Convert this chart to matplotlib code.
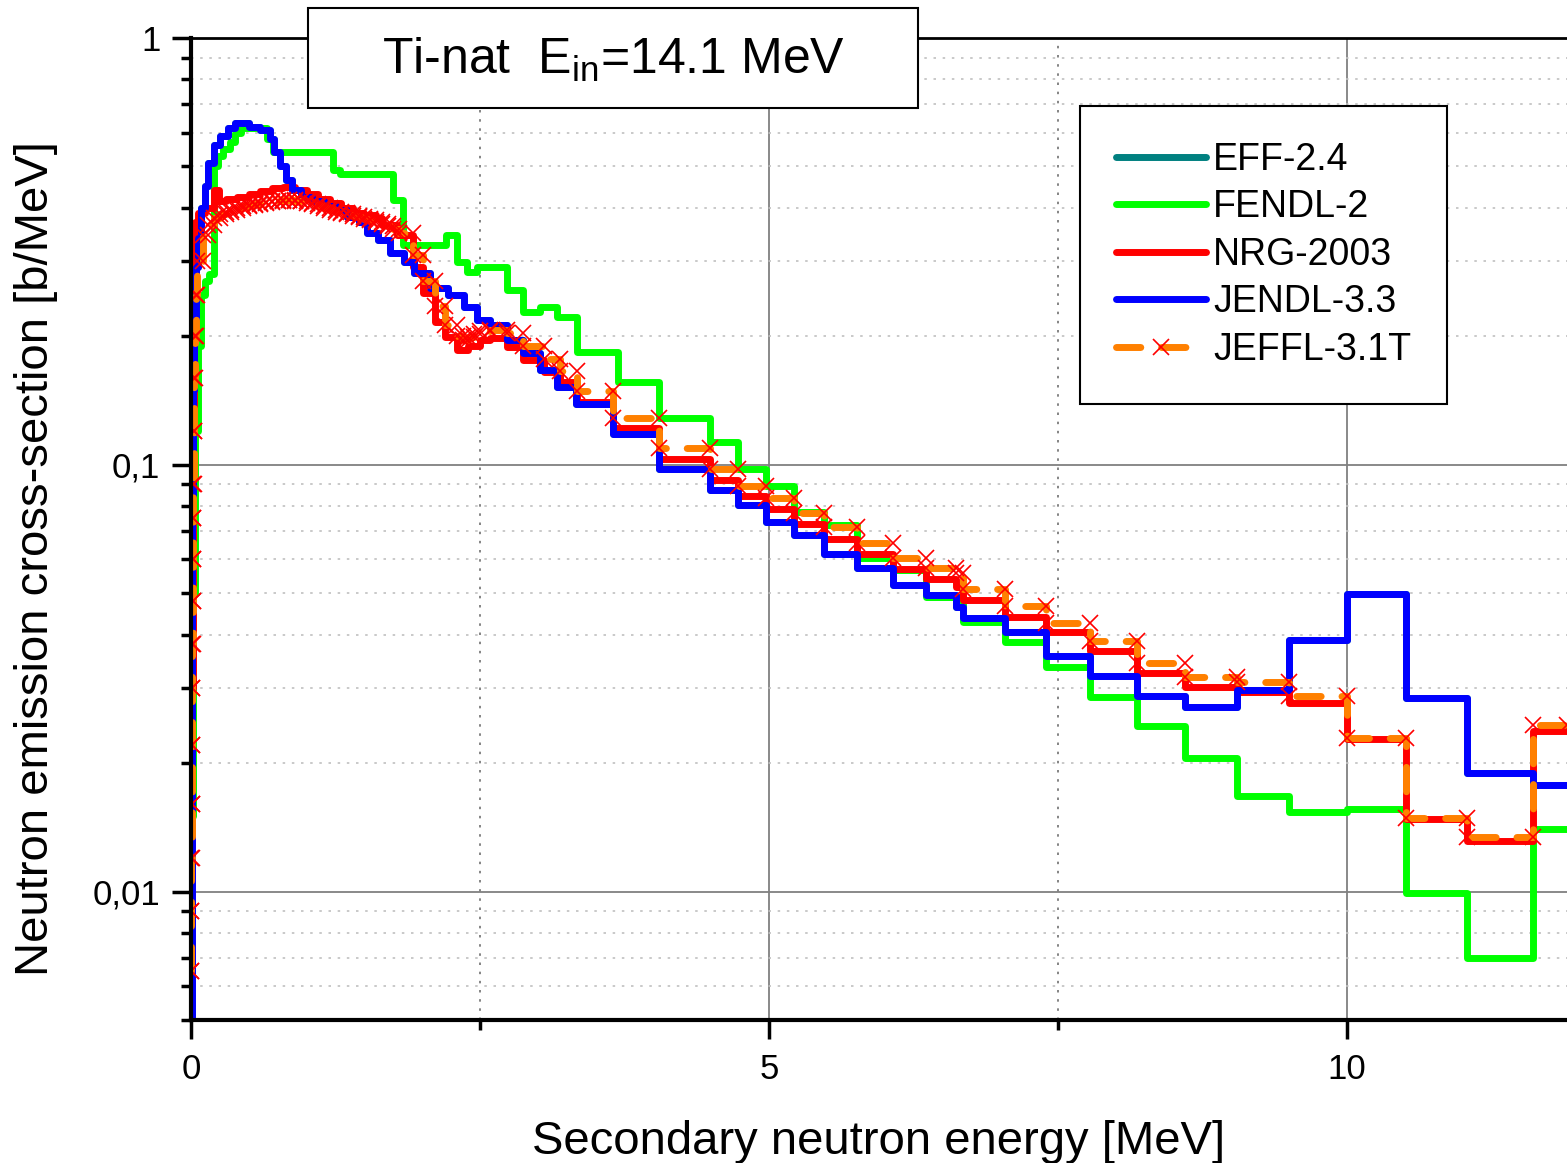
"""Ti-nat neutron emission spectra at 14.1 MeV, several evaluated libraries."""
import numpy as np
import matplotlib

matplotlib.use("Agg")
import matplotlib.pyplot as plt
from matplotlib.patches import Rectangle
from matplotlib.ticker import FixedLocator, LogLocator, NullFormatter

plt.rcParams["font.family"] = ["Liberation Sans", "DejaVu Sans"]
plt.rcParams["mathtext.fontset"] = "custom"
plt.rcParams["mathtext.rm"] = "Liberation Sans"
plt.rcParams["mathtext.it"] = "Liberation Sans:italic"

# ---- data: histogram bin edges [MeV] and values [b/MeV] ----
fendl_edges = [0.0, 0.010, 0.020, 0.035, 0.06, 0.09, 0.12, 0.16, 0.20, 0.23, 0.28,
               0.34, 0.38, 0.43, 0.66, 0.71, 1.23, 1.29, 1.75, 1.83, 2.21, 2.30,
               2.39, 2.47, 2.73, 2.87, 3.02, 3.17, 3.34, 3.69, 4.05, 4.49, 4.73,
               4.97, 5.22, 5.48, 5.76, 6.07, 6.36, 6.68, 7.04, 7.40, 7.78, 8.18,
               8.60, 9.05, 9.50, 10.0, 10.51, 11.04, 11.61, 11.9]
fendl_vals = [0.004, 0.015, 0.05, 0.12, 0.19, 0.25, 0.27, 0.28, 0.50, 0.53, 0.55,
              0.57, 0.60, 0.615, 0.58, 0.54, 0.49, 0.48, 0.417, 0.327, 0.345, 0.298,
              0.283, 0.29, 0.257, 0.228, 0.234, 0.222, 0.184, 0.156, 0.129, 0.113,
              0.098, 0.0893, 0.0774, 0.0722, 0.0605, 0.0566, 0.049, 0.0428, 0.0385,
              0.0335, 0.0285, 0.0244, 0.0205, 0.0167, 0.0154, 0.0156, 0.0099,
              0.0070, 0.0140]

nrg_edges = [0.0, 0.008, 0.015, 0.025, 0.035, 0.06, 0.12, 0.20, 0.24, 0.30, 0.40,
             0.50, 0.60, 0.70, 0.80, 0.90, 1.00, 1.10, 1.20, 1.30, 1.40, 1.50,
             1.60, 1.65, 1.78, 1.92, 2.01, 2.11, 2.20, 2.30, 2.40, 2.50, 2.59,
             2.73, 2.87, 3.05, 3.19, 3.34, 3.65, 4.05, 4.49, 4.73, 4.97, 5.22,
             5.48, 5.76, 6.07, 6.36, 6.62, 6.68, 7.04, 7.40, 7.78, 8.18, 8.60,
             9.05, 9.50, 10.0, 10.51, 11.04, 11.61, 11.9]
nrg_vals = [0.006, 0.03, 0.12, 0.30, 0.37, 0.39, 0.40, 0.44, 0.415, 0.42, 0.425,
            0.43, 0.438, 0.445, 0.447, 0.44, 0.43, 0.42, 0.41, 0.40, 0.39, 0.385,
            0.378, 0.365, 0.345, 0.29, 0.252, 0.216, 0.199, 0.186, 0.19, 0.196,
            0.198, 0.189, 0.176, 0.165, 0.156, 0.140, 0.122, 0.1034, 0.0923,
            0.0844, 0.0789, 0.0728, 0.0671, 0.0619, 0.0571, 0.0541, 0.0517,
            0.0483, 0.0441, 0.0405, 0.0366, 0.0325, 0.0301, 0.0293, 0.0276,
            0.0228, 0.0148, 0.0131, 0.0238]

jendl_edges = [0.0, 0.005, 0.010, 0.015, 0.025, 0.040, 0.06, 0.09, 0.12, 0.15,
               0.20, 0.25, 0.32, 0.38, 0.50, 0.60, 0.68, 0.72, 0.77, 0.82, 0.87,
               0.95, 1.05, 1.15, 1.25, 1.35, 1.45, 1.52, 1.62, 1.72, 1.84, 1.93,
               2.07, 2.22, 2.36, 2.47, 2.59, 2.73, 2.87, 3.02, 3.17, 3.33, 3.65,
               4.05, 4.49, 4.73, 4.97, 5.22, 5.48, 5.76, 6.07, 6.36, 6.62, 6.68,
               7.04, 7.40, 7.78, 8.18, 8.60, 9.05, 9.50, 10.0, 10.51, 11.04, 11.61,
               11.9]
jendl_vals = [0.005, 0.03, 0.08, 0.15, 0.22, 0.29, 0.34, 0.40, 0.45, 0.51, 0.56,
              0.59, 0.615, 0.632, 0.62, 0.61, 0.58, 0.54, 0.50, 0.465, 0.44, 0.425,
              0.415, 0.405, 0.395, 0.38, 0.37, 0.35, 0.337, 0.313, 0.298, 0.281,
              0.26, 0.25, 0.234, 0.218, 0.212, 0.196, 0.183, 0.167, 0.152, 0.139,
              0.118, 0.098, 0.0873, 0.0806, 0.0733, 0.0685, 0.0619, 0.0572, 0.0522,
              0.0495, 0.0465, 0.0437, 0.0406, 0.0357, 0.0320, 0.0287, 0.0271,
              0.0297, 0.0389, 0.0497, 0.0284, 0.0190, 0.0178]

# EFF-2.4 lies under JENDL-3.3 everywhere in the figure
eff_edges = jendl_edges
eff_vals = jendl_vals

jeff_edges = [0.0, 0.002, 0.004, 0.006, 0.008, 0.010, 0.012, 0.014, 0.016, 0.018,
              0.020, 0.025, 0.030, 0.035, 0.040,
              0.05, 0.10, 0.15, 0.20, 0.25, 0.30, 0.35, 0.40, 0.45, 0.50, 0.55,
              0.60, 0.65, 0.70, 0.75, 0.80, 0.85, 0.90, 0.95, 1.00, 1.05, 1.10,
              1.15, 1.20, 1.25, 1.30, 1.35, 1.40, 1.45, 1.50, 1.55, 1.60, 1.65,
              1.70, 1.75,
              1.80, 1.92, 2.01, 2.11, 2.20, 2.30, 2.35, 2.40, 2.45, 2.50, 2.59,
              2.73, 2.87, 3.05, 3.19, 3.34, 3.65, 4.05, 4.49, 4.73, 4.97, 5.22,
              5.48, 5.76, 6.07, 6.36, 6.62, 6.68, 7.04, 7.40, 7.78, 8.18, 8.60,
              9.05, 9.50, 10.0, 10.51, 11.04, 11.61, 11.9]
jeff_vals = [0.0065, 0.009, 0.012, 0.016, 0.022, 0.030, 0.038, 0.048, 0.060, 0.075,
             0.090, 0.12, 0.16, 0.20, 0.25,
             0.30, 0.345, 0.365, 0.378, 0.386, 0.392, 0.396, 0.400, 0.403, 0.406,
             0.409, 0.411, 0.413, 0.415, 0.416, 0.417, 0.417, 0.416, 0.414, 0.411,
             0.408, 0.404, 0.400, 0.396, 0.392, 0.389, 0.386, 0.383, 0.380, 0.377,
             0.374, 0.370, 0.366, 0.362, 0.357,
             0.350, 0.31, 0.27, 0.235, 0.212, 0.200, 0.196, 0.199, 0.203, 0.206,
             0.207, 0.204, 0.190, 0.177, 0.166, 0.149, 0.129, 0.1092, 0.0977,
             0.0892, 0.0834, 0.0770, 0.0714, 0.0655, 0.0606, 0.0572, 0.0557,
             0.0512, 0.0467, 0.0426, 0.0386, 0.0343, 0.0318, 0.0309, 0.0287,
             0.0229, 0.0149, 0.01345, 0.0245]

labels = ["EFF-2.4", "FENDL-2", "NRG-2003", "JENDL-3.3", "JEFFL-3.1T"]
y_ticks = [0.01, 0.1, 1]
y_ticklabels = ["0,01", "0,1", "1"]
x_ticks = [0, 5, 10]


def steps(edges, vals):
    """Histogram outline: one point at each corner of every bin."""
    edges = np.asarray(edges, float)
    vals = np.asarray(vals, float)
    return np.repeat(edges, 2)[1:-1], np.repeat(vals, 2)


W, H = 1567, 1163
fig = plt.figure(figsize=(W / 100, H / 100), dpi=100)
ax = fig.add_axes([191 / W, 1 - 1020 / H, (W - 191) / W, (1020 - 38) / H])

lw = 5.0
kw = dict(lw=lw, solid_joinstyle="round", solid_capstyle="round")
h_eff, = ax.plot(*steps(eff_edges, eff_vals), color="#008080", label=labels[0], **kw)
h_fendl, = ax.plot(*steps(fendl_edges, fendl_vals), color="#00ff00", label=labels[1], **kw)
h_nrg, = ax.plot(*steps(nrg_edges, nrg_vals), color="#ff0000", label=labels[2], **kw)
h_jendl, = ax.plot(*steps(jendl_edges, jendl_vals), color="#0000ff", label=labels[3], **kw)
h_jeff, = ax.plot(*steps(jeff_edges, jeff_vals), color="#ff8000", label=labels[4],
                  lw=lw, linestyle=(0, (3.5, 3)), dash_capstyle="round",
                  marker="x", ms=12, mew=1.2, mec="#ff0000")

ax.set_yscale("log")
ax.set_xlim(0, (W - 191) / 115.6)
ax.set_ylim(0.005, 1)

ax.yaxis.set_major_locator(FixedLocator(y_ticks))
ax.set_yticklabels(y_ticklabels)
ax.yaxis.set_minor_locator(LogLocator(base=10, subs=np.arange(2, 10)))
ax.yaxis.set_minor_formatter(NullFormatter())
ax.set_xticks(x_ticks)
ax.set_xticklabels([str(t) for t in x_ticks])
ax.xaxis.set_minor_locator(FixedLocator([2.5, 7.5]))

ax.tick_params(which="major", direction="out", length=14, width=2.5,
               labelsize=25, pad=8)
ax.tick_params(which="minor", direction="out", length=7, width=2.5)
ax.tick_params(axis="x", which="major", pad=10)

ax.set_axisbelow(True)
ax.xaxis.grid(True, which="major", color="#808080", lw=1.3)
ax.yaxis.grid(True, which="major", color="#808080", lw=1.3)
ax.xaxis.grid(True, which="minor", color="#707070", lw=1.2, ls=(0, (1.5, 4)))
ax.yaxis.grid(True, which="minor", color="#c0c0c0", lw=1.2, ls=(0, (1.5, 4)))

for side in ("left", "bottom"):
    ax.spines[side].set_linewidth(3)
ax.spines["top"].set_linewidth(2)
ax.spines["right"].set_visible(False)

ax.set_xlabel("Secondary neutron energy [MeV]", fontsize=34, labelpad=24)
ax.set_ylabel("Neutron emission cross-section [b/MeV]", fontsize=34)
ax.yaxis.set_label_coords(-0.097, 0.47)

# title box that sits across the top frame line
fig.patches.append(Rectangle((308 / W, 1 - 108 / H), 610 / W, 100 / H,
                             transform=fig.transFigure, facecolor="white",
                             edgecolor="black", lw=1.5, zorder=5))
fig.text(613 / W, 1 - 60 / H, r"Ti-nat  E$_{\mathrm{in}}$=14.1 MeV", fontsize=36,
         ha="center", va="center", zorder=6)

leg = ax.legend(handles=[h_eff, h_fendl, h_nrg, h_jendl, h_jeff],
                loc="upper left", bbox_to_anchor=(1080 / W, 1 - 106 / H),
                bbox_transform=fig.transFigure, borderaxespad=0,
                fontsize=27, handlelength=2.4, handletextpad=0.2,
                labelspacing=0.31, borderpad=0.95, fancybox=False,
                framealpha=1, edgecolor="black", numpoints=1)
leg.get_frame().set_linewidth(1.5)

fig.savefig("out.png", dpi=100)
plt.close(fig)
